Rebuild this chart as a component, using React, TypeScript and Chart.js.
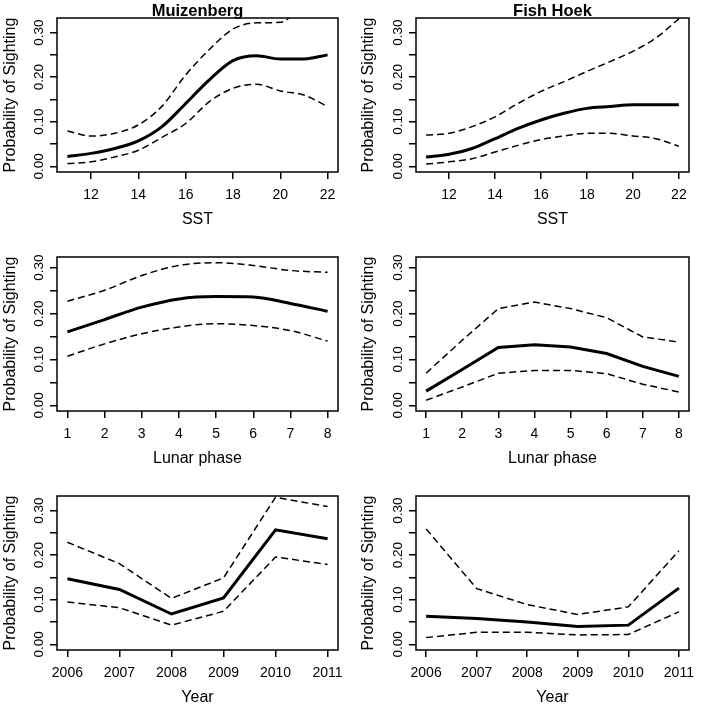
import React, { useEffect, useRef } from 'react';
import { Chart, registerables } from 'chart.js';

Chart.register(...registerables);

// ---------- data ----------
const sstX = [11, 12, 13, 14, 15, 16, 17, 18, 19, 20, 21, 22];
const muizSstFit = [0.022, 0.029, 0.040, 0.057, 0.089, 0.141, 0.194, 0.237, 0.248, 0.241, 0.241, 0.250];
const muizSstUpper = [0.079, 0.068, 0.074, 0.093, 0.135, 0.205, 0.262, 0.308, 0.322, 0.323, 0.370, 0.430];
const muizSstLower = [0.006, 0.010, 0.021, 0.036, 0.065, 0.096, 0.145, 0.175, 0.184, 0.169, 0.160, 0.134];

const fishSstFit = [0.021, 0.027, 0.040, 0.062, 0.085, 0.104, 0.119, 0.130, 0.134, 0.138, 0.138, 0.138];
const fishSstUpper = [0.070, 0.074, 0.089, 0.111, 0.141, 0.168, 0.190, 0.213, 0.235, 0.258, 0.288, 0.331];
const fishSstLower = [0.005, 0.010, 0.017, 0.032, 0.047, 0.060, 0.068, 0.074, 0.074, 0.068, 0.062, 0.045];

const lunarX = [1, 2, 3, 4, 5, 6, 7, 8];
const muizLunarFit = [0.160, 0.187, 0.214, 0.232, 0.237, 0.236, 0.222, 0.205];
const muizLunarUpper = [0.227, 0.251, 0.283, 0.305, 0.311, 0.305, 0.294, 0.290];
const muizLunarLower = [0.107, 0.134, 0.156, 0.171, 0.178, 0.174, 0.163, 0.140];

const fishLunarFit = [0.031, 0.078, 0.126, 0.132, 0.127, 0.113, 0.085, 0.063];
const fishLunarUpper = [0.070, 0.142, 0.211, 0.225, 0.211, 0.191, 0.149, 0.138];
const fishLunarLower = [0.011, 0.040, 0.070, 0.076, 0.076, 0.069, 0.046, 0.029];

const yearX = [2006, 2007, 2008, 2009, 2010, 2011];
const muizYearFit = [0.147, 0.123, 0.068, 0.104, 0.257, 0.237];
const muizYearUpper = [0.229, 0.181, 0.103, 0.149, 0.330, 0.309];
const muizYearLower = [0.095, 0.082, 0.043, 0.074, 0.196, 0.179];

const fishYearFit = [0.063, 0.058, 0.050, 0.040, 0.043, 0.126];
const fishYearUpper = [0.259, 0.125, 0.089, 0.067, 0.084, 0.210];
const fishYearLower = [0.015, 0.027, 0.027, 0.021, 0.022, 0.073];

const sstTicks = [12, 14, 16, 18, 20, 22];
const lunarTicks = [1, 2, 3, 4, 5, 6, 7, 8];
const yearTicks = [2006, 2007, 2008, 2009, 2010, 2011];
const yTickValues = [0, 0.05, 0.1, 0.15, 0.2, 0.25, 0.3];
const yLabelValues = [0, 0.1, 0.2, 0.3];
const yLabelTexts = ['0.00', '0.10', '0.20', '0.30'];

const siteTitles = ['Muizenberg', 'Fish Hoek'];
const xTitles = ['SST', 'Lunar phase', 'Year'];
const yTitle = 'Probability of Sighting';

const FONT = '"Liberation Sans", Arial, Helvetica, sans-serif';

type PanelCfg = {
  left: number; top: number; width: number; height: number;
  x: number[]; fit: number[]; upper: number[]; lower: number[];
  xMin: number; xMax: number; yMin: number; yMax: number;
  xTicks: number[]; xTitle: string; title?: string;
  yAxisWidth: number; yTitlePad: number; smooth: boolean;
};

const panels: PanelCfg[] = [
  { left: 0, top: 0, width: 350, height: 230, x: sstX, fit: muizSstFit, upper: muizSstUpper, lower: muizSstLower,
    xMin: 10.56, xMax: 22.44, yMin: -0.0128, yMax: 0.3328, xTicks: sstTicks, xTitle: xTitles[0], title: siteTitles[0],
    yAxisWidth: 57, yTitlePad: 1, smooth: true },
  { left: 350, top: 0, width: 351, height: 230, x: sstX, fit: fishSstFit, upper: fishSstUpper, lower: fishSstLower,
    xMin: 10.56, xMax: 22.44, yMin: -0.0128, yMax: 0.3328, xTicks: sstTicks, xTitle: xTitles[0], title: siteTitles[1],
    yAxisWidth: 66, yTitlePad: 9, smooth: true },
  { left: 0, top: 239, width: 350, height: 230, x: lunarX, fit: muizLunarFit, upper: muizLunarUpper, lower: muizLunarLower,
    xMin: 0.72, xMax: 8.28, yMin: -0.0124, yMax: 0.3234, xTicks: lunarTicks, xTitle: xTitles[1],
    yAxisWidth: 57, yTitlePad: 1, smooth: true },
  { left: 350, top: 239, width: 351, height: 230, x: lunarX, fit: fishLunarFit, upper: fishLunarUpper, lower: fishLunarLower,
    xMin: 0.72, xMax: 8.28, yMin: -0.0124, yMax: 0.3234, xTicks: lunarTicks, xTitle: xTitles[1],
    yAxisWidth: 66, yTitlePad: 9, smooth: false },
  { left: 0, top: 478, width: 350, height: 230, x: yearX, fit: muizYearFit, upper: muizYearUpper, lower: muizYearLower,
    xMin: 2005.8, xMax: 2011.2, yMin: -0.0128, yMax: 0.3328, xTicks: yearTicks, xTitle: xTitles[2],
    yAxisWidth: 57, yTitlePad: 1, smooth: false },
  { left: 350, top: 478, width: 351, height: 230, x: yearX, fit: fishYearFit, upper: fishYearUpper, lower: fishYearLower,
    xMin: 2005.8, xMax: 2011.2, yMin: -0.0128, yMax: 0.3328, xTicks: yearTicks, xTitle: xTitles[2],
    yAxisWidth: 66, yTitlePad: 9, smooth: false },
];

function makeRPlugin(title?: string) {
  return {
    id: 'rStyle',
    afterDraw(chart: any) {
      const { ctx, chartArea: a, scales } = chart;
      const y = scales.y;
      ctx.save();
      ctx.strokeStyle = '#000';
      ctx.lineWidth = 1.5;
      ctx.strokeRect(a.left, a.top, a.right - a.left, a.bottom - a.top);
      ctx.fillStyle = '#000';
      ctx.font = `13.5px ${FONT}`;
      ctx.textAlign = 'center';
      ctx.textBaseline = 'middle';
      yLabelValues.forEach((v, i) => {
        const py = y.getPixelForValue(v);
        ctx.save();
        ctx.translate(a.left - 18, py);
        ctx.rotate(-Math.PI / 2);
        ctx.fillText(yLabelTexts[i], 0, 0);
        ctx.restore();
      });
      if (title) {
        ctx.font = `bold 16.5px ${FONT}`;
        ctx.textBaseline = 'alphabetic';
        ctx.fillText(title, (a.left + a.right) / 2, a.top - 2);
      }
      ctx.restore();
    },
  };
}

function Panel({ cfg }: { cfg: PanelCfg }) {
  const ref = useRef<HTMLCanvasElement>(null);
  useEffect(() => {
    const mk = (vals: number[]) => cfg.x.map((xv, i) => ({ x: xv, y: vals[i] }));
    const base = {
      borderColor: '#000',
      pointRadius: 0,
      fill: false,
      clip: 0,
      ...(cfg.smooth ? { cubicInterpolationMode: 'monotone' as const } : { tension: 0 }),
    };
    const chart = new Chart(ref.current!, {
      type: 'line',
      data: {
        datasets: [
          { ...base, data: mk(cfg.upper), borderWidth: 1.5, borderDash: [7, 4] },
          { ...base, data: mk(cfg.lower), borderWidth: 1.5, borderDash: [7, 4] },
          { ...base, data: mk(cfg.fit), borderWidth: 3 },
        ],
      },
      options: {
        animation: false,
        responsive: false,
        events: [],
        layout: { padding: { top: 18, left: 0, bottom: 0, right: cfg.width - (cfg.left === 0 ? 338 : 339) } },
        plugins: { legend: { display: false }, tooltip: { enabled: false } },
        scales: {
          x: {
            type: 'linear',
            min: cfg.xMin,
            max: cfg.xMax,
            afterBuildTicks: (s: any) => { s.ticks = cfg.xTicks.map((v) => ({ value: v })); },
            afterFit: (s: any) => { s.height = 58; s.paddingLeft = 0; s.paddingRight = 0; },
            grid: { display: true, drawOnChartArea: false, drawTicks: true, tickLength: 7, color: '#000', lineWidth: 1.5 },
            border: { display: false },
            ticks: {
              color: '#000',
              font: { size: 14, family: FONT },
              padding: 7.5,
              maxRotation: 0,
              autoSkip: false,
              callback: (v: any) => String(v),
            },
            title: { display: true, text: cfg.xTitle, color: '#000', font: { size: 16, family: FONT }, padding: { top: 0, bottom: 1 } },
          },
          y: {
            type: 'linear',
            min: cfg.yMin,
            max: cfg.yMax,
            afterBuildTicks: (s: any) => { s.ticks = yTickValues.map((v) => ({ value: v })); },
            afterFit: (s: any) => { s.width = cfg.yAxisWidth; s.paddingTop = 0; s.paddingBottom = 0; },
            grid: { display: true, drawOnChartArea: false, drawTicks: true, tickLength: 7, color: '#000', lineWidth: 1.5 },
            border: { display: false },
            ticks: { display: false },
            title: { display: true, text: yTitle, color: '#000', font: { size: 16, family: FONT }, padding: { top: cfg.yTitlePad, bottom: 0 } },
          },
        },
      },
      plugins: [makeRPlugin(cfg.title)],
    } as any);
    return () => chart.destroy();
  }, [cfg]);
  return (
    <canvas
      ref={ref}
      width={cfg.width}
      height={cfg.height}
      style={{ position: 'absolute', left: cfg.left, top: cfg.top, width: cfg.width, height: cfg.height }}
    />
  );
}

export default function App() {
  return (
    <div style={{ position: 'absolute', left: 0, top: 0, width: 701, height: 707, overflow: 'hidden', background: '#fff' }}>
      {panels.map((p, i) => (
        <Panel key={i} cfg={p} />
      ))}
    </div>
  );
}
